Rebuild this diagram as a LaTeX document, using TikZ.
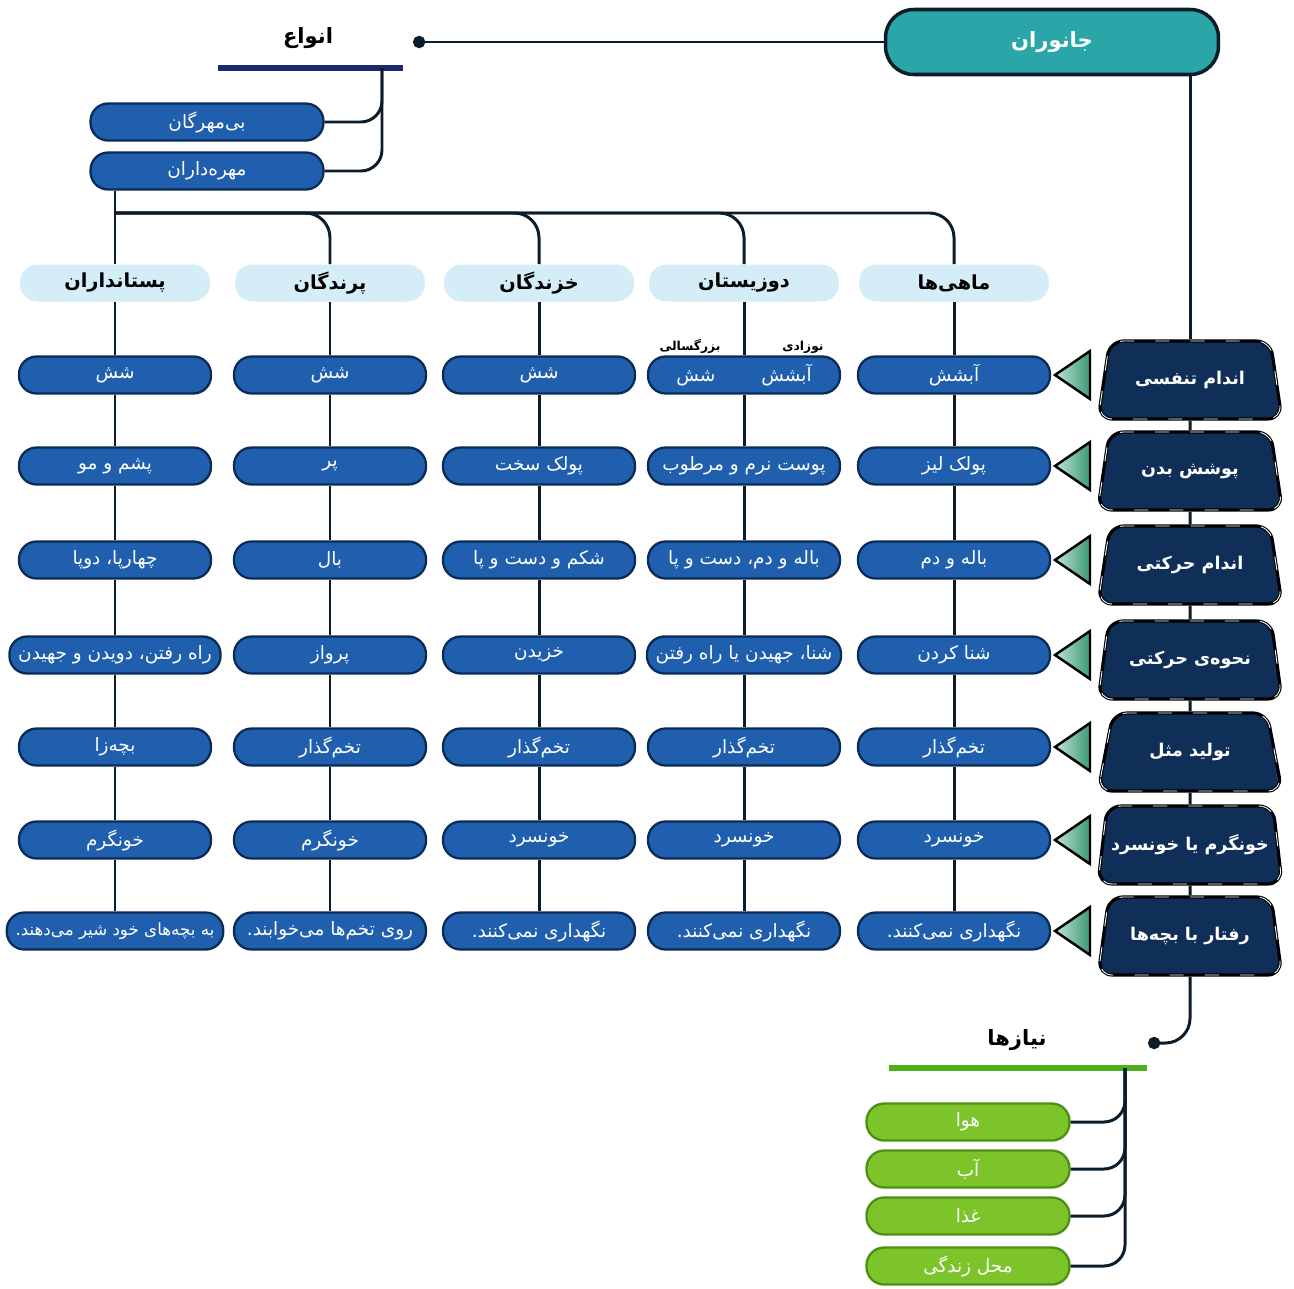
\documentclass[tikz,border=0pt]{standalone}
\usepackage{fontspec}
\newfontfamily\fafont[Script=Arabic]{DejaVu Sans}
\TeXXeTstate=1
\usetikzlibrary{shapes.geometric,arrows.meta,positioning}
\definecolor{cellblue}{HTML}{1F5FAD}
\definecolor{celledge}{HTML}{0B2B57}
\definecolor{celltext}{HTML}{CFE1F4}
\definecolor{headblue}{HTML}{D4EDF7}
\definecolor{rownavy}{HTML}{0F2F58}
\definecolor{animalteal}{HTML}{2AA6A9}
\definecolor{linecol}{HTML}{0B1D2A}
\definecolor{kindbar}{HTML}{1B2A6B}
\definecolor{needgreen}{HTML}{7DC42B}
\definecolor{neededge}{HTML}{4D8F14}
\definecolor{needtext}{HTML}{E2F4C6}
\definecolor{needbar}{HTML}{4CAF1C}
\definecolor{tricol}{HTML}{47B487}

\begin{document}
\begin{tikzpicture}[x=0.02cm,y=-0.02cm]
\tikzset{fa/.style={font=\fafont\fontsize{10.5}{12}\selectfont,
                    execute at begin node=\beginR, execute at end node=\endR},
         cell/.style={fa, rounded corners=10pt, fill=cellblue, draw=celledge, line width=1.3pt,
                      text=celltext, minimum width=3.84cm, minimum height=0.74cm, inner xsep=5pt},
         head/.style={fa, font=\fafont\bfseries\fontsize{11}{13}\selectfont, rounded corners=10pt,
                      fill=headblue, minimum width=3.8cm, minimum height=0.74cm},
         title/.style={fa, font=\fafont\bfseries\fontsize{12}{14}\selectfont},
         stage/.style={fa, font=\fafont\bfseries\fontsize{7}{8}\selectfont, inner sep=1pt},
         animal/.style={fa, font=\fafont\bfseries\fontsize{12}{14}\selectfont, rounded corners=16pt,
                        fill=animalteal, draw=linecol, line width=2pt, text=white!80!animalteal,
                        minimum width=6.66cm, minimum height=1.3cm},
         rowhead/.style={fa, font=\fafont\bfseries\fontsize{10}{12}\selectfont, trapezium,
                         trapezium left angle=75, trapezium right angle=75, trapezium stretches=true,
                         minimum width=3.7cm, minimum height=1.56cm, rounded corners=8pt, inner xsep=0pt,
                         fill=rownavy, draw=black, line width=1.8pt, text=white,
                         postaction={draw=white, line width=0.5pt, dash pattern=on 8pt off 12pt}},
         need/.style={fa, rounded corners=10pt, fill=needgreen, draw=neededge, line width=1.3pt,
                      text=needtext, minimum width=4.06cm, minimum height=0.74cm},
         conn/.style={draw=linecol, line width=1.7pt},
         tri/.style={draw=black, line width=1.4pt, left color=tricol!35!white, right color=tricol!85!black}}
\useasboundingbox (0,0) rectangle (1294,1288);

% top
\node[animal] (animals) at (1052,42) {جانوران};
\node[title] (kinds) at (308,38) {انواع};
\coordinate (kinds-dot) at (413,42);
\coordinate (kbar-l) at (218,68);
\coordinate (kbar-r) at (403,68);
\coordinate (kbar-j) at (382,68);
\node[cell, minimum width=4.66cm] (invert) at (207,122) {بی‌مهرگان};
\node[cell, minimum width=4.66cm] (vert) at (207,171) {مهره‌داران};
\coordinate (split) at (115,213);

% groups
\node[head] (mam-h) at (115,283) {پستانداران};
\node[head] (bird-h) at (330,283) {پرندگان};
\node[head] (rept-h) at (539,283) {خزندگان};
\node[head] (amph-h) at (744,283) {دوزیستان};
\node[head] (fish-h) at (954,283) {ماهی‌ها};

\foreach \y [count=\i] in {375,466,560,655,747,840,931}
  \coordinate (r\i) at (0,\y);

\foreach \txt [count=\i] in {آبشش,پولک لیز,باله و دم,شنا کردن,تخم‌گذار,خونسرد,نگهداری نمی‌کنند.}
  \node[cell] (fish-\i) at (fish-h |- r\i) {\txt};
\foreach \txt [count=\i] in {{آبشش\hspace{2.5em}شش},پوست نرم و مرطوب,باله و دم، دست و پا,شنا، جهیدن یا راه رفتن,تخم‌گذار,خونسرد,نگهداری نمی‌کنند.}
  \node[cell] (amph-\i) at (amph-h |- r\i) {\txt};
\foreach \txt [count=\i] in {شش,پولک سخت,شکم و دست و پا,خزیدن,تخم‌گذار,خونسرد,نگهداری نمی‌کنند.}
  \node[cell] (rept-\i) at (rept-h |- r\i) {\txt};
\foreach \txt [count=\i] in {شش,پر,بال,پرواز,تخم‌گذار,خونگرم,روی تخم‌ها می‌خوابند.}
  \node[cell] (bird-\i) at (bird-h |- r\i) {\txt};
\foreach \txt [count=\i] in {شش,پشم و مو,چهارپا، دوپا,راه رفتن، دویدن و جهیدن,بچه‌زا,خونگرم,{\fontsize{9.5}{11}\selectfont به بچه‌های خود شیر می‌دهند.}}
  \node[cell] (mam-\i) at (mam-h |- r\i) {\txt};

\node[stage, anchor=south] (larva) at ([xshift=1.18cm]amph-1.north) {نوزادی};
\node[stage, anchor=south] (adult) at ([xshift=-1.08cm]amph-1.north) {بزرگسالی};

% features
\coordinate (rh) at (1190,0);
\foreach \txt [count=\i] in {اندام تنفسی,پوشش بدن,اندام حرکتی,نحوه‌ی حرکتی,تولید مثل,خونگرم یا خونسرد,رفتار با بچه‌ها}{
  \node[rowhead] (hd-\i) at ([yshift=-0.1cm]rh |- r\i) {\txt};
  \draw[tri] (1090,0 |- r\i) ++(0,-24) -- ++(0,48) -- ++(-35,-24) -- cycle;
}

% needs
\node[title] (needs) at (1017,1040) {نیازها};
\coordinate (needs-dot) at (1148,1043);
\coordinate (nbar-l) at (889,1068);
\coordinate (nbar-r) at (1147,1068);
\coordinate (nbar-j) at (1125,1068);
\foreach \y/\txt [count=\i] in {1122/هوا,1169/آب,1216/غذا,1266/محل زندگی}
  \node[need] (need-\i) at (968,\y) {\txt};

% connectors
\draw[conn, {Circle[length=7pt]}-] (kinds-dot) -- (animals.west);
\draw[draw=kindbar, line width=3.5pt] (kbar-l) -- (kbar-r);
\draw[conn, rounded corners=12pt] (kbar-j) |- (invert.east);
\draw[conn, rounded corners=12pt] (kbar-j) |- (vert.east);
\draw[conn] (vert.south -| split) -- (split) -- (mam-h.north);
\foreach \c in {bird,rept,amph,fish}
  \draw[conn, rounded corners=14pt] (split) -| (\c-h.north);
\foreach \c in {mam,bird,rept,amph,fish}{
  \draw[conn] (\c-h) -- (\c-1);
  \foreach \i [evaluate=\i as \j using int(\i+1)] in {1,...,6}
    \draw[conn] (\c-\i) -- (\c-\j);
}
\draw[conn] (animals.south -| hd-1.north) -- (hd-1.north);
\foreach \i [evaluate=\i as \j using int(\i+1)] in {1,...,6}
  \draw[conn] (hd-\i) -- (hd-\j);
\draw[conn, rounded corners=14pt, -{Circle[length=7pt]}] (hd-7.south) |- (needs-dot);
\draw[draw=needbar, line width=3.5pt] (nbar-l) -- (nbar-r);
\foreach \i in {1,...,4}
  \draw[conn, rounded corners=12pt] (nbar-j) |- (need-\i.east);
\end{tikzpicture}
\end{document}
